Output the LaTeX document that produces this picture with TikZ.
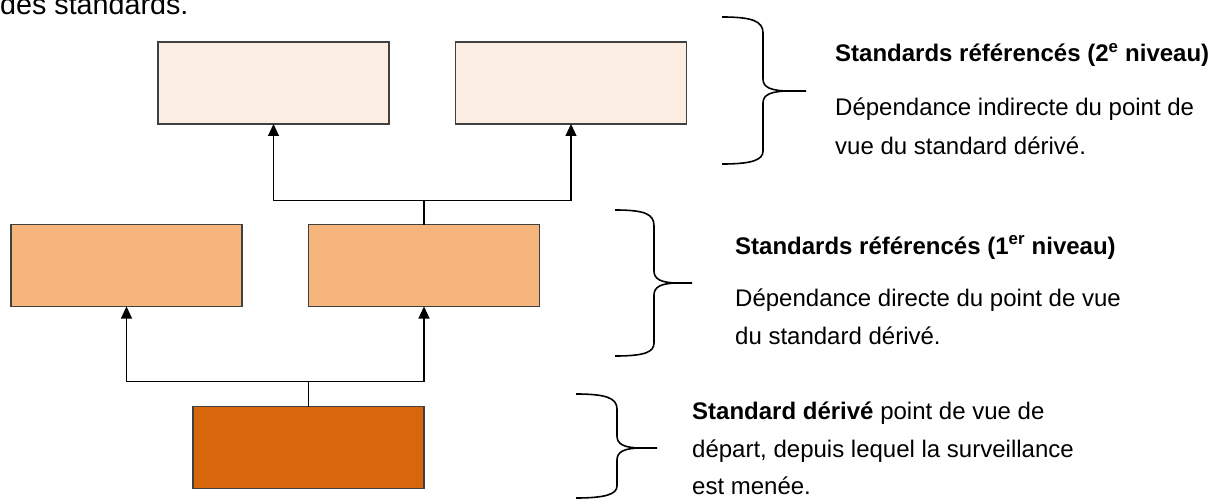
\documentclass[tikz,border=0pt]{standalone}
\usepackage{fontspec}
\setmainfont{Liberation Sans}
\usetikzlibrary{arrows.meta, positioning}
\definecolor{peachlight}{HTML}{FCEDE2}
\definecolor{peachmid}{HTML}{F7B57E}
\definecolor{rust}{HTML}{D8670C}
\definecolor{boxline}{HTML}{404040}

\begin{document}
\begin{tikzpicture}[
  x=1pt, y=-1pt,
  node distance=66.5pt,
  stdbox/.style={draw=boxline, line width=1.1pt, minimum width=231pt, minimum height=82pt, inner sep=0pt, outer sep=0pt},
  fleche/.style={-{Triangle[length=12pt,width=11pt]}, line width=1.1pt},
  accolade/.style={line width=1.6pt, line join=round},
  legende/.style={anchor=base west, inner sep=0pt, font=\fontsize{24}{28}\selectfont},
  titre/.style={legende, font=\fontsize{24}{28}\selectfont\bfseries}
]
  \useasboundingbox (0,0) rectangle (1210,500);
  \node[anchor=base west, inner sep=0pt, font=\fontsize{28.7}{34}\selectfont] (intro) at (0,15) {des standards.};

  % boites
  \node[stdbox, fill=rust] (derive) at (308.5,447.5) {};
  \node[stdbox, fill=peachmid] (refa) at (126.5,265.5) {};
  \node[stdbox, fill=peachmid, right=of refa] (refb) {};
  \node[stdbox, fill=peachlight] (niva) at (273.5,83) {};
  \node[stdbox, fill=peachlight, right=of niva] (nivb) {};

  % liens
  \draw[fleche] (derive.north) -- ++(0,-25) -| (refa.south);
  \draw[fleche] (derive.north) -- ++(0,-25) -| (refb.south);
  \draw[fleche] (refb.north) -- ++(0,-24) -| (niva.south);
  \draw[fleche] (refb.north) -- ++(0,-24) -| (nivb.south);

  % accolades
  \draw[accolade] (722,17) .. controls (752,17) and (763,21) .. (763,33) -- (763,79) .. controls (763,87) and (770,91) .. (790,91) -- (806,91);
  \draw[accolade] (790,91) .. controls (770,91) and (763,95) .. (763,103) -- (763,151) .. controls (763,160) and (752,164) .. (722,164);
  \draw[accolade] (615,210) .. controls (645,210) and (654,214) .. (654,226) -- (654,271) .. controls (654,279) and (661,283) .. (678,283) -- (692,283);
  \draw[accolade] (678,283) .. controls (661,283) and (654,287) .. (654,295) -- (654,343) .. controls (654,352) and (645,356) .. (615,356);
  \draw[accolade] (576,394) .. controls (606,394) and (617,398) .. (617,409) -- (617,436) .. controls (617,444) and (624,448) .. (641,448) -- (657,448);
  \draw[accolade] (641,448) .. controls (624,448) and (617,452) .. (617,460) -- (617,486) .. controls (617,494) and (606,498) .. (576,498);

  % textes
  \node[titre] (titrenivb) at (835,62) {Standards référencés (2\textsuperscript{e} niveau)};
  \node[legende] (nivbl1) at (835,116) {Dépendance indirecte du point de};
  \node[legende] (nivbl2) at (835,154) {vue du standard dérivé.};
  \node[titre] (titreref) at (735,254) {Standards référencés (1\textsuperscript{er} niveau)};
  \node[legende] (refl1) at (735,306) {Dépendance directe du point de vue};
  \node[legende] (refl2) at (735,344) {du standard dérivé.};
  \node[legende] (derl1) at (692,419) {\textbf{Standard dérivé} point de vue de};
  \node[legende] (derl2) at (692,457) {départ, depuis lequel la surveillance};
  \node[legende] (derl3) at (692,494) {est menée.};
\end{tikzpicture}
\end{document}
